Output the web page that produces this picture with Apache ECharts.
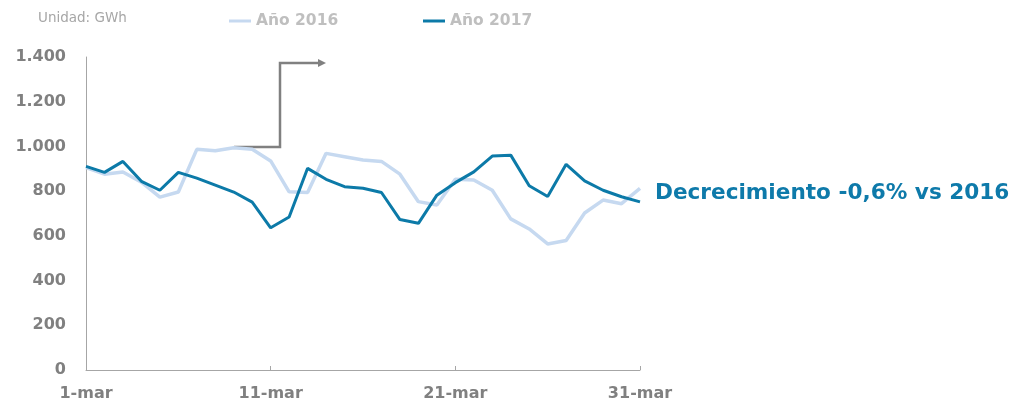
<!DOCTYPE html>
<html>
<head>
<meta charset="utf-8">
<script src="https://cdn.jsdelivr.net/npm/echarts@6/dist/echarts.min.js"></script>
<style>
  html, body { margin: 0; padding: 0; background: #fff; }
  #chart { width: 1015px; height: 402px; }
</style>
</head>
<body>
<div id="chart"></div>
<script>
// dias de marzo
const days = []
for (let d = 1; d <= 31; d++) days.push(d + '-mar')

// GWh diarios
const v2016 = [905, 876, 886, 840, 773, 796, 987, 981, 994, 987, 935, 797, 794, 969, 954, 939,
  933, 876, 753, 738, 853, 850, 804, 676, 631, 564, 579, 702, 760, 744, 812]
const v2017 = [911, 884, 933, 844, 804, 884, 858, 827, 796, 751, 636, 684, 902, 853, 820, 813,
  794, 673, 656, 782, 838, 886, 957, 961, 824, 776, 920, 846, 804, 775, 752]

const names = ['Año 2016', 'Año 2017']
const note = 'Decrecimiento -0,6% vs 2016'

const font = 'DejaVu Sans'
const axisColor = '#a6a6a6'
const labelColor = '#808080'
const lightBlue = '#c6d9f0'
const darkBlue = '#0c7aa8'

const chart = echarts.init(document.getElementById('chart'))

const legendBase = {
  top: 8,
  itemWidth: 22,
  itemHeight: 3,
  icon: 'rect',
  selectedMode: false,
  textStyle: {
    color: '#bfbfbf',
    fontFamily: font,
    fontWeight: 'bold',
    fontSize: 15.5
  }
}

chart.setOption({
  animation: false,
  legend: [
    Object.assign({ data: [names[0]], left: 224 }, legendBase),
    Object.assign({ data: [names[1]], left: 418 }, legendBase)
  ],
  grid: {
    left: 86,
    right: 375,
    top: 57,
    bottom: 30,
    containLabel: false
  },
  xAxis: {
    type: 'category',
    data: days,
    boundaryGap: false,
    axisLine: { lineStyle: { color: axisColor, width: 1 } },
    axisTick: {
      show: true,
      inside: true,
      length: 4,
      interval: 9,
      lineStyle: { color: axisColor }
    },
    axisLabel: {
      interval: 9,
      color: labelColor,
      fontFamily: font,
      fontWeight: 'bold',
      fontSize: 16,
      margin: 16
    },
    splitLine: { show: false }
  },
  yAxis: {
    type: 'value',
    min: 0,
    max: 1400,
    interval: 200,
    axisLine: { show: true, lineStyle: { color: axisColor, width: 1 } },
    axisTick: { show: false },
    splitLine: { show: false },
    axisLabel: {
      color: labelColor,
      fontFamily: font,
      fontWeight: 'bold',
      fontSize: 16,
      margin: 20,
      formatter: v => String(v).replace(/\B(?=(\d{3})+(?!\d))/g, '.')
    }
  },
  series: [
    {
      name: names[0],
      type: 'line',
      data: v2016,
      symbol: 'none',
      color: lightBlue,
      lineStyle: { color: lightBlue, width: 3.5 }
    },
    {
      name: names[1],
      type: 'line',
      data: v2017,
      symbol: 'none',
      color: darkBlue,
      lineStyle: { color: darkBlue, width: 3 }
    }
  ],
  graphic: [
    {
      type: 'text',
      left: 38,
      top: 11,
      style: {
        text: 'Unidad: GWh',
        fill: '#a6a6a6',
        font: '13.5px "DejaVu Sans"'
      }
    },
    {
      type: 'polyline',
      shape: { points: [[234, 147], [280, 147], [280, 63], [319, 63]] },
      style: { stroke: '#808080', lineWidth: 2.5, fill: null }
    },
    {
      type: 'polygon',
      shape: { points: [[318, 59], [326, 63], [318, 67]] },
      style: { fill: '#808080' }
    },
    {
      type: 'text',
      x: 655,
      y: 193,
      style: {
        text: note,
        fill: '#0e7aaa',
        fontFamily: font,
        fontWeight: 'bold',
        fontSize: 21.6,
        verticalAlign: 'middle'
      }
    }
  ]
})
</script>
</body>
</html>
